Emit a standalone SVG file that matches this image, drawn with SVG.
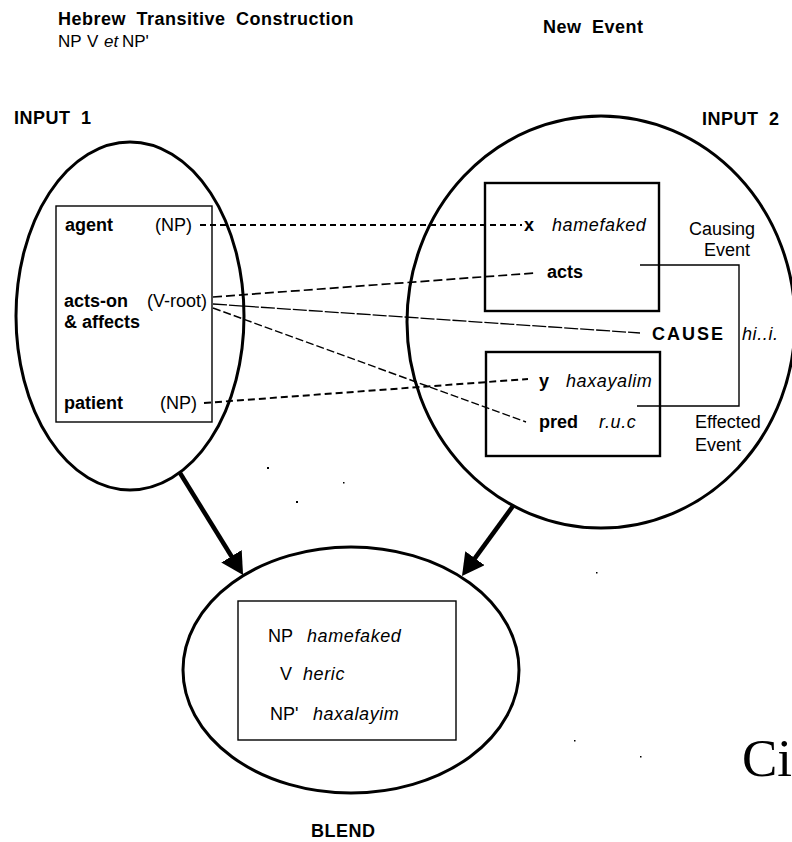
<svg xmlns="http://www.w3.org/2000/svg" width="792" height="842" viewBox="0 0 792 842">
<defs>
<style>
text{font-family:"Liberation Sans",Arial,sans-serif;font-size:18px;fill:#000}
.b{font-weight:bold}
.h{font-weight:bold;letter-spacing:0.5px;word-spacing:5px}
.i{font-style:italic;letter-spacing:0.6px}
.sub{font-size:17px}
.space{fill:none;stroke:#000;stroke-width:3}
.frame{fill:none;stroke:#000;stroke-width:1.4}
.frame2{fill:none;stroke:#000;stroke-width:2.4}
.map{fill:none;stroke:#000}
.arrow{fill:none;stroke:#000;stroke-width:4.5}
.dot{fill:#000}
</style>
<marker id="head" viewBox="0 0 22 24" refX="12" refY="12" markerWidth="22" markerHeight="24" markerUnits="userSpaceOnUse" orient="auto">
<path d="M0,0 L22,12 L0,24 z" fill="#000"/>
</marker>
</defs>
<rect width="792" height="842" fill="#fff"/>

<g id="title-input1">
<text x="58" y="25" class="h" letter-spacing="0.4" word-spacing="6">Hebrew Transitive Construction</text>
<text x="58" y="47" class="sub">NP</text><text x="87" y="47" class="sub">V</text><text x="104" y="47" class="sub" font-style="italic">et</text><text x="122" y="47" class="sub">NP'</text>
</g>
<g id="title-input2"><text x="543" y="33" class="h">New Event</text></g>

<g id="input1">
<text x="14" y="124" class="h">INPUT 1</text>
<ellipse cx="130" cy="316" rx="114" ry="174" class="space"/>
<rect x="56" y="206" width="156" height="216" class="frame"/>
<text x="65" y="231" class="b">agent</text><text x="155" y="231">(NP)</text>
<text x="64" y="307" class="b">acts-on</text><text x="147" y="307">(V-root)</text>
<text x="64" y="328" class="b">&amp; affects</text>
<text x="64" y="409" class="b">patient</text><text x="160" y="409">(NP)</text>
</g>

<g id="input2">
<text x="702" y="125" class="h">INPUT 2</text>
<ellipse cx="601" cy="322" rx="194" ry="206" class="space" stroke-width="2.6"/>
<rect x="485" y="183" width="174" height="128" class="frame2"/>
<rect x="486" y="352" width="174" height="104" class="frame2"/>
<text x="524" y="231" class="b">x</text><text x="552" y="231" class="i">hamefaked</text>
<text x="547" y="278" class="b">acts</text>
<text x="652" y="340" class="b" letter-spacing="2">CAUSE</text><text x="742" y="340" class="i">hi..i.</text>
<text x="539" y="387" class="b">y</text><text x="566" y="387" class="i">haxayalim</text>
<text x="539" y="428" class="b">pred</text><text x="599" y="428" class="i">r.u.c</text>
<text x="689" y="235">Causing</text><text x="704" y="256">Event</text>
<text x="695" y="428">Effected</text><text x="695" y="451">Event</text>
<polyline points="640,265 739,265 739,406 637,406" class="frame"/>
</g>

<g id="blend">
<ellipse cx="351" cy="670" rx="168" ry="123" class="space" stroke-width="2.6"/>
<rect x="238" y="601" width="218" height="139" class="frame"/>
<text x="268" y="642">NP</text><text x="307" y="642" class="i">hamefaked</text>
<text x="280" y="680">V</text><text x="303" y="680" class="i">heric</text>
<text x="270" y="720">NP'</text><text x="313" y="720" class="i">haxalayim</text>
<text x="311" y="837" class="h" letter-spacing="1">BLEND</text>
</g>

<g id="connectors">
<line x1="200" y1="225" x2="522" y2="225" class="map" stroke-width="2" stroke-dasharray="6 4"/>
<line x1="213" y1="297" x2="535" y2="273" class="map" stroke-width="1.7" stroke-dasharray="9 4"/>
<line x1="213" y1="304" x2="640" y2="333" class="map" stroke-width="1.3" stroke-dasharray="14 2"/>
<line x1="213" y1="308" x2="526" y2="422" class="map" stroke-width="1.4" stroke-dasharray="8 3"/>
<line x1="204" y1="403" x2="528" y2="379" class="map" stroke-width="2" stroke-dasharray="7 4"/>
<line x1="180" y1="473" x2="237.8" y2="566.5" class="arrow" marker-end="url(#head)"/>
<line x1="513" y1="506" x2="467.9" y2="567.9" class="arrow" marker-end="url(#head)"/>
</g>

<g id="specks">
<rect x="267" y="467" width="2" height="2" class="dot"/>
<rect x="343" y="482" width="1.5" height="1.5" class="dot"/>
<rect x="296" y="501" width="2" height="2" class="dot"/>
<rect x="596" y="572" width="1.5" height="1.5" class="dot"/>
<rect x="574" y="740" width="1.5" height="1.5" class="dot"/>
<rect x="640" y="756" width="1.5" height="1.5" class="dot"/>
</g>
<text x="742" y="776" style="font-family:'Liberation Serif','Times New Roman',serif;font-size:53px">Ci</text>
</svg>
